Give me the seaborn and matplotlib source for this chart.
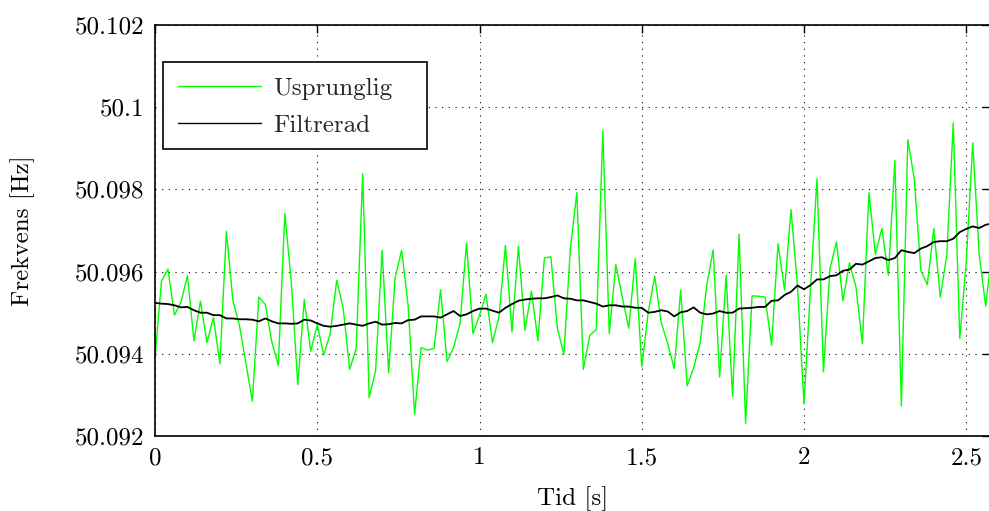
import numpy as np
import pandas as pd
import matplotlib
matplotlib.use("Agg")
import matplotlib.pyplot as plt
from matplotlib.ticker import FuncFormatter, FixedLocator
from matplotlib.patches import Rectangle
import seaborn as sns

# ---- data ----
sample_step = 0.02
original = [
    50.09389, 50.09577, 50.09606, 50.09494, 50.09526, 50.09590, 50.09432, 50.09528, 50.09427, 50.09488,
    50.09376, 50.09698, 50.09530, 50.09470, 50.09377, 50.09285, 50.09538, 50.09520, 50.09429, 50.09372,
    50.09742, 50.09575, 50.09325, 50.09532, 50.09406, 50.09471, 50.09397, 50.09449, 50.09579, 50.09510,
    50.09362, 50.09413, 50.09838, 50.09293, 50.09360, 50.09652, 50.09354, 50.09585, 50.09652, 50.09518,
    50.09253, 50.09415, 50.09409, 50.09413, 50.09556, 50.09381, 50.09415, 50.09474, 50.09670, 50.09449,
    50.09494, 50.09545, 50.09427, 50.09490, 50.09664, 50.09453, 50.09662, 50.09457, 50.09553, 50.09432,
    50.09633, 50.09636, 50.09462, 50.09399, 50.09656, 50.09792, 50.09362, 50.09445, 50.09459, 50.09943,
    50.09449, 50.09617, 50.09538, 50.09462, 50.09632, 50.09368, 50.09502, 50.09589, 50.09476, 50.09425,
    50.09364, 50.09555, 50.09322, 50.09366, 50.09427, 50.09565, 50.09653, 50.09343, 50.09591, 50.09296,
    50.09691, 50.09231, 50.09541, 50.09540, 50.09538, 50.09421, 50.09668, 50.09555, 50.09751, 50.09563,
    50.09278, 50.09559, 50.09826, 50.09356, 50.09607, 50.09672, 50.09529, 50.09621, 50.09563, 50.09425,
    50.09792, 50.09642, 50.09705, 50.09591, 50.09870, 50.09273, 50.09921, 50.09824, 50.09603, 50.09568,
    50.09705, 50.09538, 50.09640, 50.09962, 50.09437, 50.09623, 50.09913, 50.09640, 50.09516, 50.09656,
]
filtered = [
    50.09524, 50.09522, 50.09521, 50.09518, 50.09513, 50.09514, 50.09506, 50.09500, 50.09500, 50.09494,
    50.09494, 50.09486, 50.09486, 50.09484, 50.09484, 50.09483, 50.09479, 50.09486, 50.09479, 50.09474,
    50.09474, 50.09473, 50.09474, 50.09483, 50.09481, 50.09474, 50.09468, 50.09466, 50.09468, 50.09471,
    50.09474, 50.09471, 50.09468, 50.09474, 50.09478, 50.09471, 50.09472, 50.09475, 50.09474, 50.09482,
    50.09483, 50.09491, 50.09491, 50.09491, 50.09488, 50.09496, 50.09504, 50.09492, 50.09496, 50.09504,
    50.09510, 50.09510, 50.09505, 50.09500, 50.09512, 50.09521, 50.09529, 50.09532, 50.09534, 50.09535,
    50.09535, 50.09538, 50.09542, 50.09535, 50.09534, 50.09530, 50.09530, 50.09526, 50.09522, 50.09515,
    50.09518, 50.09518, 50.09515, 50.09515, 50.09512, 50.09512, 50.09500, 50.09502, 50.09506, 50.09503,
    50.09491, 50.09501, 50.09504, 50.09513, 50.09500, 50.09496, 50.09498, 50.09504, 50.09500, 50.09500,
    50.09510, 50.09511, 50.09512, 50.09514, 50.09514, 50.09529, 50.09530, 50.09543, 50.09551, 50.09566,
    50.09557, 50.09567, 50.09581, 50.09581, 50.09589, 50.09591, 50.09602, 50.09605, 50.09619, 50.09617,
    50.09625, 50.09633, 50.09635, 50.09628, 50.09633, 50.09652, 50.09648, 50.09645, 50.09656, 50.09662,
    50.09672, 50.09674, 50.09674, 50.09680, 50.09696, 50.09704, 50.09710, 50.09706, 50.09714, 50.09717,
]
series_names = ["Usprunglig", "Filtrerad"]
series_colors = ["#00ff00", "#000000"]
x_ticks = [0, 0.5, 1, 1.5, 2, 2.5]
y_ticks = [50.092, 50.094, 50.096, 50.098, 50.100, 50.102]
x_label = "Tid [s]"
y_label = "Frekvens [Hz]"

time = np.round(np.arange(len(original)) * sample_step, 4)
df = pd.DataFrame({
    "t": np.concatenate([time, time]),
    "f": np.concatenate([original, filtered]),
    "serie": [series_names[0]] * len(original) + [series_names[1]] * len(filtered),
})

# ---- style ----
sns.set_theme(style="white")
plt.rcParams["font.family"] = ["cmr10", "DejaVu Serif"]
plt.rcParams["axes.formatter.use_mathtext"] = True
plt.rcParams["mathtext.fontset"] = "cm"

fs = 18
W, H = 989, 511
L, R, B, T = 155, 990, 436, 25   # axes box in pixels
fig = plt.figure(figsize=(W / 100, H / 100), dpi=100)
ax = fig.add_axes([L / W, (H - B) / H, (R - L) / W, (B - T) / H])

sns.lineplot(data=df, x="t", y="f", hue="serie", palette=dict(zip(series_names, series_colors)),
             estimator=None, sort=False, ax=ax, linewidth=1.0)
for line, lw in zip(ax.get_lines(), [1.0, 1.3]):
    line.set_linewidth(lw)

ax.set_xlim(0, (R - L) / 324.5)
ax.set_ylim(50.092, 50.102)
ax.xaxis.set_major_locator(FixedLocator(x_ticks))
ax.yaxis.set_major_locator(FixedLocator(y_ticks))
ax.xaxis.set_major_formatter(FuncFormatter(lambda v, p: f"{v:g}"))
ax.yaxis.set_major_formatter(FuncFormatter(lambda v, p: f"{round(v, 6):g}"))

ax.grid(True, which="major", linestyle=(0, (1, 5)), color="black", linewidth=0.8)
ax.tick_params(direction="in", length=6, width=1.0, top=True, right=True,
               labelsize=fs, colors="black", pad=8)
for s in ax.spines.values():
    s.set_visible(True)
    s.set_color("black")
    s.set_linewidth(1.2)

ax.set_xlabel(x_label, fontsize=fs, color="black", labelpad=12)
ax.set_ylabel(y_label, fontsize=fs, color="black", labelpad=28)

def px_to_axes(px, py):
    return (px - L) / (R - L), (B - py) / (B - T)

# legend frame (Matlab-like box)
fx0, fy0 = px_to_axes(163, 149)
fx1, fy1 = px_to_axes(427, 62)
ax.add_patch(Rectangle((fx0, fy0), fx1 - fx0, fy1 - fy0, transform=ax.transAxes,
                       facecolor="white", edgecolor="black", linewidth=1.2, zorder=4))

handles, labels = ax.get_legend_handles_labels()
ax_anchor = px_to_axes(178, 77)
leg = ax.legend(handles, labels, loc="upper left", bbox_to_anchor=ax_anchor,
                fontsize=fs, frameon=False,
                handlelength=3.3, handletextpad=0.5, labelspacing=0.58,
                borderpad=0.0, borderaxespad=0)
leg.set_zorder(5)
for lh in leg.get_lines():
    lh.set_linewidth(1.0)

fig.savefig("out.png", dpi=100)
